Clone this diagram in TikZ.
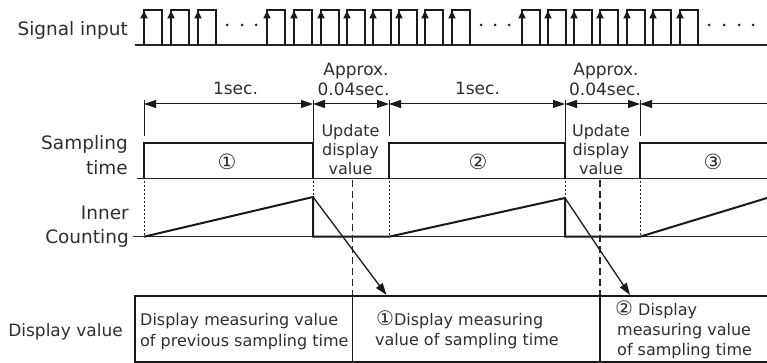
\documentclass[tikz,border=0pt]{standalone}
\usepackage{fontspec}
\setmainfont{DejaVu Sans}
\usetikzlibrary{arrows.meta}
\newcommand{\circnum}[1]{{\fontsize{20}{20}\selectfont #1}}
\begin{document}
\begin{tikzpicture}[x=1pt,y=-1pt,
  big/.style={font=\fontsize{18.5}{22}\selectfont, text=black!82, inner sep=0pt},
  mid/.style={font=\fontsize{17}{20}\selectfont, text=black!82, inner sep=0pt},
  small/.style={font=\fontsize{16}{19}\selectfont, text=black!82, inner sep=0pt},
  circ/.style={font=\fontsize{21}{21}\selectfont, text=black!82, inner sep=0pt},
  boxtxt/.style={font=\fontsize{16}{19}\selectfont, text=black!82, inner sep=0pt, anchor=base west},
  pulse/.style={line width=1.2pt, black!90},
  uparrow/.style={line width=2.2pt, black!90, -{Triangle[length=8pt,width=7pt]}},
  baseline/.style={line width=1.4pt, black!85},
  wave/.style={line width=2pt, black!90},
  dim/.style={line width=1pt, black!90},
  dimtip/.style={{Triangle[length=12pt,width=8pt]}-{Triangle[length=12pt,width=8pt]}},
  ext/.style={line width=1pt, black!90},
  dotv/.style={line width=1pt, black!85, dash pattern=on 2pt off 2pt},
  dashv/.style={line width=1.3pt, black!85, dash pattern=on 7pt off 4pt},
  pointer/.style={line width=1.3pt, black!90, -{Triangle[length=12pt,width=8pt]}},
  dotmark/.style={fill=black!85, draw=none}
]
\useasboundingbox (0,0) rectangle (767,363);

% ---------- Signal input ----------
\node[big, anchor=base east] (siglab) at (128,36) {Signal input};
\draw[baseline] (135,45) -- (767,45);
\foreach \x in {144,171,198, 267,294,321,347,373,399,425,452, 522,548,574,600,627,653,680}{
  \draw[pulse] (\x,45) -- (\x,10) -- (\x+18,10) -- (\x+18,45);
  \draw[uparrow] (\x,45) -- (\x,10.5);
}
\foreach \x in {227,242,256, 481,495,509, 709,724,739,753}{
  \fill[dotmark] (\x,25) circle (1.5);
}

% ---------- dimension lines ----------
\draw[ext] (144,100) -- (144,136);
\draw[ext] (313,100) -- (313,143);
\draw[ext] (389,100) -- (389,136);
\draw[ext] (565,100) -- (565,143);
\draw[ext] (640,100) -- (640,136);
\coordinate (d0) at (144,104);
\coordinate (d1) at (313,104);
\coordinate (d2) at (389,104);
\coordinate (d3) at (565,104);
\coordinate (d4) at (640,104);
\coordinate (d5) at (767,104);
\draw[dim, dimtip] (d0) -- (d1);
\draw[dim, dimtip] (d1) -- (d2);
\draw[dim, dimtip] (d2) -- (d3);
\draw[dim, dimtip] (d3) -- (d4);
\draw[dim, {Triangle[length=12pt,width=8pt]}-] (d4) -- (d5);

\node[mid, anchor=base] (sec1) at (235.5,95) {1sec.};
\node[mid, anchor=base] (sec2) at (477.5,95) {1sec.};
\node[mid, anchor=base] (ap1a) at (356,75.7) {Approx.};
\node[mid, anchor=base] (ap1b) at (353.5,95.7) {0.04sec.};
\node[mid, anchor=base] (ap2a) at (606,76) {Approx.};
\node[mid, anchor=base] (ap2b) at (605,96) {0.04sec.};

% ---------- Sampling time ----------
\node[big, anchor=base east] (samp1) at (128,150) {Sampling};
\node[big, anchor=base east] (samp2) at (128,174.5) {time};
\draw[baseline] (137,178.5) -- (767,178.5);
\draw[wave] (144,178.5) -- (144,143) -- (313,143) -- (313,178.5);
\draw[wave] (389,178.5) -- (389,143) -- (565,143) -- (565,178.5);
\draw[wave] (640,178.5) -- (640,143) -- (767,143);
\node[circ, anchor=center] (n1) at (227,162) {①};
\node[circ, anchor=center] (n2) at (478,162) {②};
\node[circ, anchor=center] (n3) at (713,162) {③};

\node[small, anchor=base] (up1a) at (350.5,137) {Update};
\node[small, anchor=base] (up1b) at (350.5,156) {display};
\node[small, anchor=base] (up1c) at (350.5,175) {value};
\node[small, anchor=base] (up2a) at (601,137) {Update};
\node[small, anchor=base] (up2b) at (601,156) {display};
\node[small, anchor=base] (up2c) at (601,175) {value};

% ---------- Inner counting ----------
\node[big, anchor=base east] (ic1) at (129,219) {Inner};
\node[big, anchor=base east] (ic2) at (129,243) {Counting};
\draw[baseline] (133,236.7) -- (767,236.7);
\coordinate (peak1) at (313,197);
\coordinate (peak2) at (565,198);
\draw[wave] (144,236.7) -- (peak1) -- (313,236.7) -- (389,236.7) -- (peak2) -- (565,236.7) -- (640,236.7) -- (767,198);

\draw[dotv] (144,181) -- (144,236);
\draw[dotv] (313,181) -- (313,197);
\draw[dotv] (389,181) -- (389,236);
\draw[dotv] (565,181) -- (565,198);
\draw[dotv] (640,181) -- (640,236);

\draw[dashv] (352.5,180) -- (352.5,296);
\draw[dashv] (600,180) -- (600,296);

% ---------- Display value ----------
\node[font=\fontsize{17}{20}\selectfont, text=black!82, inner sep=0pt, anchor=base east] (dv) at (123,336.7) {Display value};
\draw[line width=2pt, black!90] (767,296) -- (135,296) -- (135,362) -- (767,362);
\draw[line width=1.3pt, black!90] (352.5,296) -- (352.5,362);
\draw[line width=1.3pt, black!90] (600,296) -- (600,362);

\coordinate (tip1) at (386.5,295);
\coordinate (tip2) at (630,295);
\draw[pointer] (peak1) -- (tip1);
\draw[pointer] (peak2) -- (tip2);

\node[boxtxt] (c1a) at (140,325.7) {Display measuring value};
\node[boxtxt] (c1b) at (140,346.7) {of previous sampling time};
\node[boxtxt] (c2a) at (376,325) {\circnum{①}Display measuring};
\node[boxtxt] (c2b) at (375,345.5) {value of sampling time};
\node[boxtxt] (c3a) at (615,315) {\circnum{②} Display};
\node[boxtxt] (c3b) at (617,335) {measuring value};
\node[boxtxt] (c3c) at (617,355) {of sampling time};
\end{tikzpicture}
\end{document}
